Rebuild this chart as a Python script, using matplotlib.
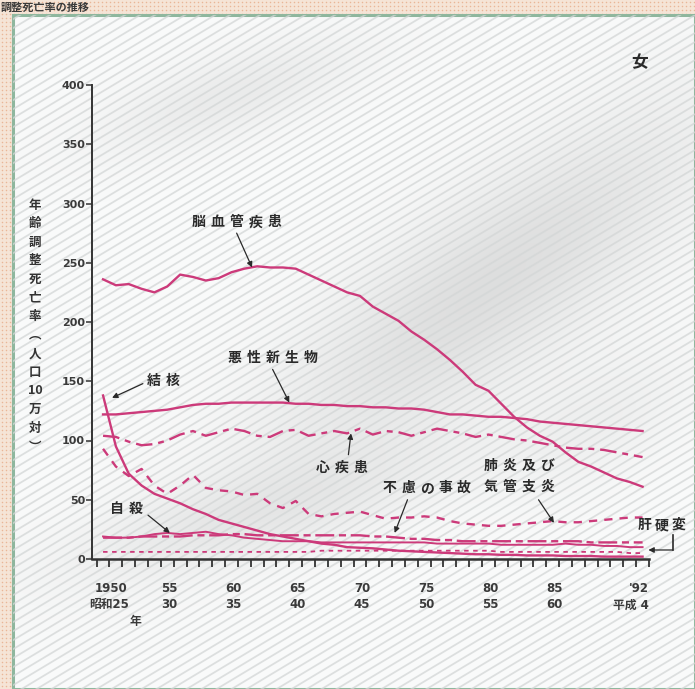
import numpy as np
import matplotlib
matplotlib.use("Agg")
import matplotlib.pyplot as plt
from matplotlib.patches import Rectangle

plt.rcParams["font.family"] = ["Noto Sans CJK JP", "DejaVu Sans"]

# ---- data: age-adjusted death rates, female (per 100,000) ----
years = list(range(1950, 1993))

cerebrovascular = [236, 231, 232, 228, 225, 230, 240, 238, 235, 237,
                   242, 245, 247, 246, 246, 245, 240, 235, 230, 225,
                   222, 213, 207, 201, 192, 185, 177, 168, 158, 147,
                   142, 131, 120, 111, 104, 99, 90, 82, 78, 73,
                   68, 65, 61]
neoplasm = [122, 122, 123, 124, 125, 126, 128, 130, 131, 131,
            132, 132, 132, 132, 132, 131, 131, 130, 130, 129,
            129, 128, 128, 127, 127, 126, 124, 122, 122, 121,
            120, 120, 119, 118, 116, 115, 114, 113, 112, 111,
            110, 109, 108]
heart = [104, 103, 99, 96, 97, 100, 105, 108, 104, 107,
         110, 108, 104, 103, 108, 109, 104, 106, 108, 106,
         110, 105, 108, 107, 104, 107, 110, 108, 106, 103,
         105, 103, 101, 100, 98, 96, 94, 93, 93, 92,
         90, 88, 86]
pneumonia = [93, 78, 70, 76, 62, 55, 62, 71, 60, 58,
             57, 54, 55, 47, 43, 49, 38, 36, 38, 39,
             40, 37, 34, 35, 35, 36, 35, 32, 30, 29,
             28, 28, 29, 30, 31, 32, 31, 31, 32, 33,
             34, 35, 35]
tuberculosis = [138, 95, 72, 62, 55, 51, 47, 42, 38, 33,
                30, 27, 24, 21, 19, 17, 15, 13, 12, 10,
                9.5, 9, 8, 7, 6.5, 6, 5.5, 5, 4.5, 4,
                4, 3.5, 3.5, 3, 3, 3, 2.5, 2.5, 2.5, 2,
                2, 2, 2]
accidents = [18, 18, 18, 19, 19, 19, 19, 20, 20, 20,
             21, 21, 20, 20, 20, 20, 20, 20, 20, 20,
             20, 19, 19, 18, 17, 17, 16, 16, 15, 15,
             15, 15, 15, 15, 15, 15, 15, 15, 14, 14,
             14, 14, 14]
suicide = [19, 18, 18, 19, 21, 22, 21, 22, 23, 21,
           20, 18, 17, 16, 15, 15, 15, 14, 14, 14,
           14, 14, 14, 14, 14, 14, 13, 13, 13, 13,
           13, 12, 12, 12, 12, 12, 13, 12, 12, 11,
           11, 10, 10]
cirrhosis = [6, 6, 6, 6, 6, 6, 6, 6, 6, 6,
             6, 6, 6, 6, 6, 6, 6, 7, 7, 7,
             7, 7, 7, 7, 7, 7, 7, 7, 7, 7,
             7, 6, 6, 6, 6, 6, 6, 6, 6, 6,
             6, 5, 5]

yticks = [0, 50, 100, 150, 200, 250, 300, 350, 400]
xlabel_years = [1950, 1955, 1960, 1965, 1970, 1975, 1980, 1985, 1992]
xlabels_ad = ["1950", "55", "60", "65", "70", "75", "80", "85", "'92"]
xlabels_jp = ["昭和25", "30", "35", "40", "45", "50", "55", "60", "平成 4"]
ylabel_chars = ["年", "齢", "調", "整", "死", "亡", "率", "︵",
                "人", "口", "10", "万", "対", "︶"]

W, H = 695, 689
fig = plt.figure(figsize=(W / 100, H / 100), dpi=100)
fig.patch.set_facecolor("#f5e4d6")

# ---- page background in pixel coordinates ----
bg = fig.add_axes([0, 0, 1, 1])
bg.set_xlim(0, W)
bg.set_ylim(H, 0)
bg.axis("off")

# dotted peach margin
dx, dy = np.meshgrid(np.arange(1.5, W, 4.0), np.arange(1.5, H, 4.0))
mask = (dx < 12) | (dy < 14)
bg.scatter(dx[mask], dy[mask], s=1.2, color="#eab696", linewidths=0, zorder=0)

panel = Rectangle((13, 15), W - 13, H - 15, facecolor="#f9fafa",
                  edgecolor="#8fb79e", linewidth=2.2, zorder=1)
bg.add_patch(panel)

# soft grey print shadows
yy, xx = np.mgrid[0:H, 0:W].astype(float)


def blob(cx, cy, ang, smaj, smin):
    a = np.deg2rad(ang)
    u = (xx - cx) * np.cos(a) - (yy - cy) * np.sin(a)
    v = (xx - cx) * np.sin(a) + (yy - cy) * np.cos(a)
    return np.exp(-0.5 * ((u / smaj) ** 2 + (v / smin) ** 2))


field = (0.55 * blob(230, 95, 18, 100, 28)
         + 1.0 * blob(490, 285, 38, 190, 60)
         + 0.55 * blob(250, 515, 15, 150, 32)
         + 0.35 * blob(600, 420, 30, 80, 40))
field = np.clip(field, 0, 1)
rgba = np.zeros((H, W, 4))
rgba[..., :3] = 0.58
rgba[..., 3] = field * 0.27
im = bg.imshow(rgba, extent=(0, W, H, 0), zorder=1.5, interpolation="bilinear")
im.set_clip_path(panel)

# diagonal screen hatching
for c in np.arange(-0.6 * W, H + 10, 9.0):
    ln, = bg.plot([0, W], [c + 0.6 * W, c], color="#d3d6d6", lw=1.3,
                  alpha=0.75, zorder=2, solid_capstyle="butt")
    ln.set_clip_path(panel)

# caption strip along the top margin
bg.text(90, 7, "調整死亡率の推移", ha="right", va="center", fontsize=8,
        fontweight="bold", color="#3a3a3a", zorder=3)

# vertical axis title, written top to bottom
for i, ch in enumerate(ylabel_chars):
    bg.text(35, 205 + i * 18.6, ch, ha="center", va="center", fontsize=9,
            fontweight="bold", color="#333333", zorder=3)

# ---- main chart ----
ax = fig.add_axes([92 / W, (H - 559) / H, 557 / W, 474 / H])
ax.set_facecolor("none")
ax.set_xlim(1949.14, 1992.5)
ax.set_ylim(0, 400)
for s in ("top", "right"):
    ax.spines[s].set_visible(False)
ax.spines["left"].set_linewidth(1.4)
ax.spines["bottom"].set_linewidth(1.8)
ax.spines["left"].set_color("#333333")
ax.spines["bottom"].set_color("#333333")

ax.set_yticks(yticks)
ax.set_yticklabels([str(v) for v in yticks], family="DejaVu Sans",
                   fontsize=8, fontweight="bold", color="#3a3a3a")
ax.tick_params(axis="y", direction="out", length=4, width=1.1, pad=1,
               color="#333333")

ax.set_xticks(np.arange(1949.5, 1993.0, 1.0))
ax.set_xticklabels([])
ax.tick_params(axis="x", direction="out", length=6, width=1.3, color="#333333")

label_fonts = ["DejaVu Sans", "Noto Sans CJK JP"]
for yr, a, j in zip(xlabel_years, xlabels_ad, xlabels_jp):
    off = 8 if yr == 1950 else (-4 if yr == 1992 else 2)
    offj = 6 if yr == 1950 else (-12 if yr == 1992 else 2)
    ax.annotate(a, (yr, 0), xycoords=("data", "axes fraction"),
                xytext=(off * 0.72, -21), textcoords="offset points",
                ha="center", va="center", fontsize=8.5, fontweight="bold",
                color="#3a3a3a", annotation_clip=False, family=label_fonts)
    ax.annotate(j, (yr, 0), xycoords=("data", "axes fraction"),
                xytext=(offj * 0.72, -33), textcoords="offset points",
                ha="center", va="center", fontsize=8.5, fontweight="bold",
                color="#3a3a3a", annotation_clip=False, family=label_fonts)
ax.annotate("年", (1952.5, 0), xycoords=("data", "axes fraction"),
            xytext=(0, -45), textcoords="offset points", ha="center",
            va="center", fontsize=8.5, fontweight="bold", color="#3a3a3a",
            annotation_clip=False)

pink = "#cc3a7a"
lw = 1.7
ax.plot(years, cerebrovascular, color=pink, lw=lw)
ax.plot(years, neoplasm, color=pink, lw=lw)
ax.plot(years, heart, color=pink, lw=lw, linestyle=(0, (7, 2.5, 2.5, 2.5)))
ax.plot(years, pneumonia, color=pink, lw=lw, linestyle=(0, (3.5, 3)))
ax.plot(years, tuberculosis, color=pink, lw=lw)
ax.plot(years, accidents, color=pink, lw=lw, linestyle=(0, (8, 2, 3, 2)))
ax.plot(years, suicide, color=pink, lw=1.4)
ax.plot(years, cirrhosis, color=pink, lw=1.3, linestyle=(0, (2.5, 2.5)))

# ---- labels with arrows ----
ink = "#2a2a2a"
arrow = dict(arrowstyle="-|>", color=ink, lw=0.9, mutation_scale=8,
             shrinkA=0, shrinkB=0)


def spaced(x, y, s, step=19, size=10):
    n = len(s)
    for i, ch in enumerate(s):
        ax.annotate(ch, (x, y), xytext=((i - (n - 1) / 2) * step * 0.72, 0),
                    textcoords="offset points", ha="center", va="center",
                    fontsize=size, fontweight="bold", color=ink,
                    annotation_clip=False)


def pointer(x0, y0, x1, y1):
    ax.annotate("", xy=(x1, y1), xytext=(x0, y0), arrowprops=arrow,
                annotation_clip=False)


spaced(1960.4, 284, "脳血管疾患")
pointer(1960.4, 275, 1961.6, 246)

spaced(1963.2, 170, "悪性新生物")
pointer(1963.2, 160, 1964.5, 132)

spaced(1954.7, 150, "結核")
pointer(1953.1, 148, 1950.7, 136)

spaced(1968.6, 77, "心疾患")
pointer(1969.1, 88, 1969.3, 106)

spaced(1975.2, 60, "不慮の事故", step=18.5)
pointer(1973.7, 50, 1972.7, 22)

spaced(1982.4, 78.5, "肺炎及び", step=18.8)
spaced(1982.4, 60.8, "気管支炎", step=18.8)
pointer(1983.9, 50, 1985.1, 30.5)

spaced(1951.8, 42, "自殺", step=18.5)
pointer(1953.5, 37, 1955.2, 22)

spaced(1993.5, 28.7, "肝硬変", step=17)
ax.plot([1994.36, 1994.36], [20.3, 7.6], color=ink, lw=1.2, clip_on=False)
pointer(1994.36, 7.6, 1992.45, 7.6)

ax.annotate("女", (1991.8, 419), ha="center", va="center", fontsize=12,
            fontweight="bold", color=ink, annotation_clip=False)

fig.savefig("out.png", dpi=100, facecolor=fig.get_facecolor())
